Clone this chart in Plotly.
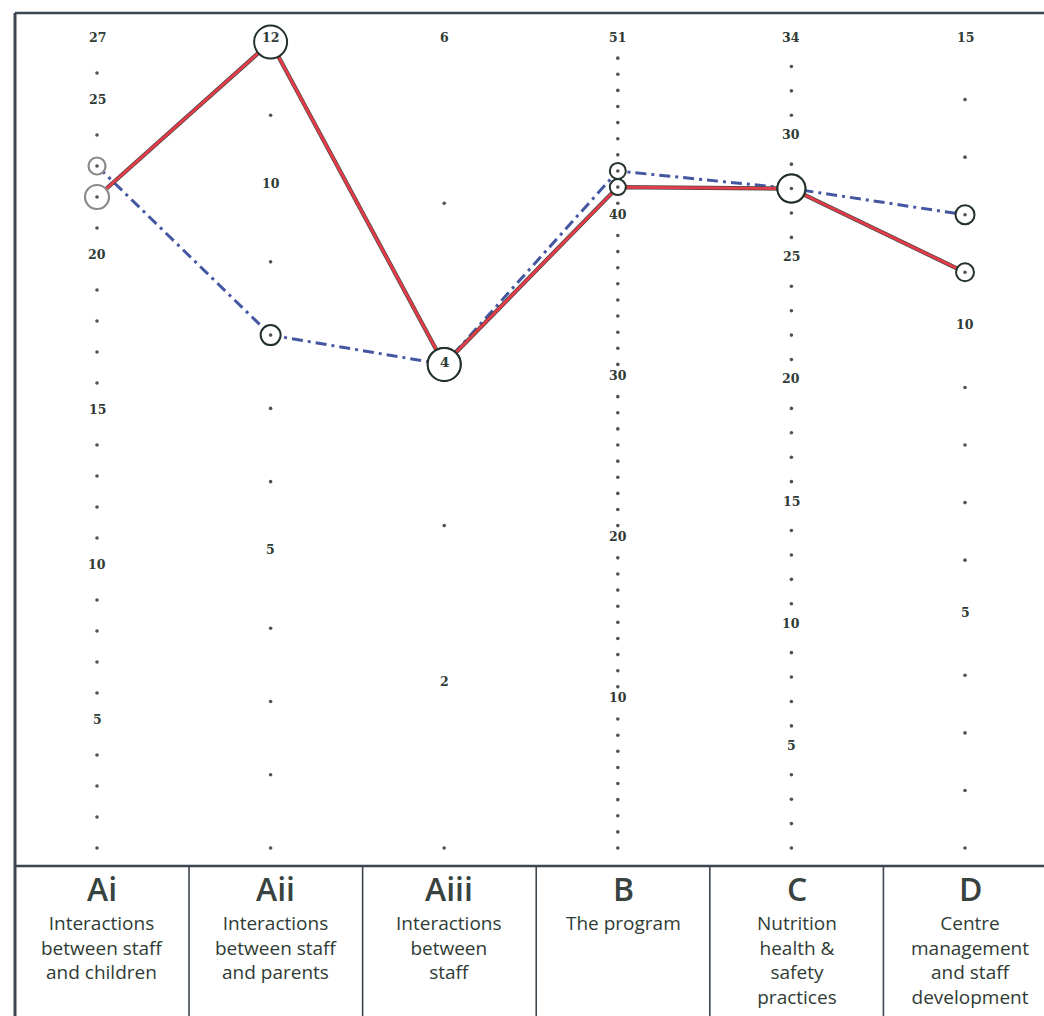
import plotly.graph_objects as go

# ---------------- data ----------------
categories = ["Ai", "Aii", "Aiii", "B", "C", "D"]
descriptions = [
    ["Interactions", "between staff", "and children"],
    ["Interactions", "between staff", "and parents"],
    ["Interactions", "between", "staff"],
    ["The program"],
    ["Nutrition", "health &", "safety", "practices"],
    ["Centre", "management", "and staff", "development"],
]
axis_min = 1
axis_max = [27, 12, 6, 51, 34, 15]
tick_labels = [
    [5, 10, 15, 20, 25, 27],
    [5, 10, 12],
    [2, 6],
    [10, 20, 30, 40, 51],
    [5, 10, 15, 20, 25, 30, 34],
    [5, 10, 15],
]
series_red = [22, 12, 4, 42, 28, 11]
series_blue = [23, 8, 4, 43, 28, 12]
circled_number_points = [(2, 4)]  # (axis index, value) shown as a number inside a circle

# ---------------- styling ----------------
red_circle_size = [24, 33, 33, 16, 28, 18]
blue_circle_size = [17, 20, 33, 16, 28, 19]
W, H = 1044, 1016
PLOT_TOP, PLOT_BOTTOM, PLOT_LEFT = 13, 866, 15
X_RANGE = [-0.4724, 5.455]
Y_RANGE = [-0.0223, 1.036]
TEXT_COLOR = "#2f3b35"
FRAME = "#3b4650"


def norm(k, v):
    return (v - axis_min) / (axis_max[k] - axis_min)


def paper_y(px):
    return (PLOT_BOTTOM - px) / (PLOT_BOTTOM - PLOT_TOP)


xs = list(range(len(categories)))
fig = go.Figure()

# blue dash-dot series
fig.add_trace(go.Scatter(
    x=xs, y=[norm(k, v) for k, v in enumerate(series_blue)],
    mode="lines", line=dict(color="#4557a3", width=3, dash="11px,5px,3px,5px"),
    hoverinfo="skip", showlegend=False))
# red series (dark pen underlay + red)
red_y = [norm(k, v) for k, v in enumerate(series_red)]
fig.add_trace(go.Scatter(x=xs, y=red_y, mode="lines",
                         line=dict(color="#4a4444", width=4.2),
                         hoverinfo="skip", showlegend=False))
fig.add_trace(go.Scatter(x=xs, y=red_y, mode="lines",
                         line=dict(color="#e63c48", width=2.8),
                         hoverinfo="skip", showlegend=False))

# circles around the data points
for vals, sizes in ((series_red, red_circle_size), (series_blue, blue_circle_size)):
    for group, col, lw in (([0], "#8a8a8a", 2.2), ([1, 2, 3, 4, 5], "#22322a", 2.0)):
        fig.add_trace(go.Scatter(
            x=[xs[k] for k in group], y=[norm(k, vals[k]) for k in group],
            mode="markers", cliponaxis=False,
            marker=dict(symbol="circle", size=[sizes[k] for k in group], opacity=1,
                        color="white", line=dict(color=col, width=lw)),
            hoverinfo="skip", showlegend=False))

# dotted scale of every axis
dx, dy = [], []
for k in xs:
    for v in range(axis_min, axis_max[k] + 1):
        if v in tick_labels[k] or (k, v) in circled_number_points:
            continue
        dx.append(k)
        dy.append(norm(k, v))
fig.add_trace(go.Scatter(x=dx, y=dy, mode="markers",
                         marker=dict(size=3.6, color="#4e5550"),
                         hoverinfo="skip", showlegend=False))

annotations = []
for k in xs:
    for v in tick_labels[k]:
        annotations.append(dict(
            x=k, y=norm(k, v), xref="x", yref="y", text=str(v), showarrow=False,
            yshift=5, font=dict(family="DejaVu Serif", size=12.5, color=TEXT_COLOR,
                                weight="bold")))
for k, v in circled_number_points:
    annotations.append(dict(
        x=k, y=norm(k, v), xref="x", yref="y", text=str(v), showarrow=False,
        yshift=2, font=dict(family="DejaVu Serif", size=13.5, color=TEXT_COLOR,
                            weight="bold")))

# bottom label panel
for k, (cat, lines) in enumerate(zip(categories, descriptions)):
    cx = k + 0.03
    annotations.append(dict(
        x=cx, y=paper_y(888), xref="x", yref="paper", text=cat, showarrow=False,
        yanchor="middle", font=dict(family="Open Sans", size=32, color="#38433f",
                                    weight=600)))
    annotations.append(dict(
        x=cx, y=paper_y(908), xref="x", yref="paper", text="<br>".join(lines),
        showarrow=False, yanchor="top", align="center",
        font=dict(family="Open Sans", size=19, color=TEXT_COLOR)))

shapes = [
    dict(type="line", xref="paper", yref="paper", x0=0, x1=0, y0=1, y1=paper_y(H + 5),
         line=dict(color=FRAME, width=3)),
    dict(type="line", xref="paper", yref="paper", x0=0, x1=1.01, y0=1, y1=1,
         line=dict(color=FRAME, width=2.5)),
    dict(type="line", xref="paper", yref="paper", x0=0, x1=1.01, y0=0, y1=0,
         line=dict(color=FRAME, width=2.5)),
]
for k in range(len(categories) - 1):
    shapes.append(dict(type="line", xref="x", yref="paper", x0=k + 0.53, x1=k + 0.53,
                       y0=0, y1=paper_y(H + 5), line=dict(color=FRAME, width=1.6)))

fig.update_layout(
    width=W, height=H,
    margin=dict(l=PLOT_LEFT, r=0, t=PLOT_TOP, b=H - PLOT_BOTTOM),
    paper_bgcolor="white", plot_bgcolor="white",
    xaxis=dict(range=X_RANGE, visible=False, fixedrange=True),
    yaxis=dict(range=Y_RANGE, visible=False, fixedrange=True),
    annotations=annotations, shapes=shapes, showlegend=False,
)

fig.write_html(
    "out.html",
    config={"displayModeBar": False},
    post_script="document.body.style.margin='0';document.body.style.overflow='hidden';",
)
